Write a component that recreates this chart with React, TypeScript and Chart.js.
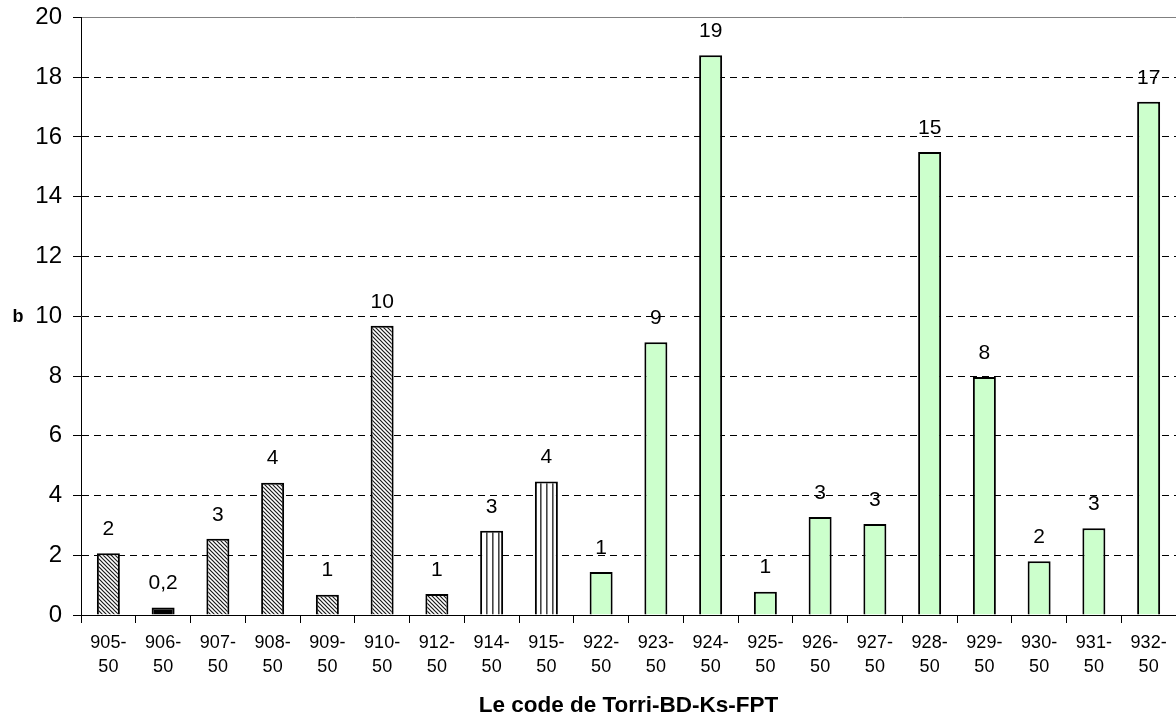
import React, { useEffect, useRef } from "react";
import { Chart, registerables } from "chart.js";

Chart.register(...registerables);

const codes = ["905", "906", "907", "908", "909", "910", "912", "914", "915", "922", "923", "924", "925", "926", "927", "928", "929", "930", "931", "932"];
const suffix = "50";
const values = [2.07, 0.25, 2.55, 4.43, 0.68, 9.68, 0.7, 2.82, 4.47, 1.44, 9.13, 18.74, 0.78, 3.28, 3.05, 15.5, 7.97, 1.8, 2.9, 17.18];
const valueLabels = ["2", "0,2", "3", "4", "1", "10", "1", "3", "4", "1", "9", "19", "1", "3", "3", "15", "8", "2", "3", "17"];
const fillKinds = ["hatch", "solid", "hatch", "hatch", "hatch", "hatch", "hatch", "vstripe", "vstripe", "green", "green", "green", "green", "green", "green", "green", "green", "green", "green", "green"];
const yTicks = [0, 2, 4, 6, 8, 10, 12, 14, 16, 18, 20];
const yTitle = "b";
const xTitle = "Le code de Torri-BD-Ks-FPT";

const FONT = "'Liberation Sans', Arial, sans-serif";

function makeHatch(): CanvasPattern | string {
  const c = document.createElement("canvas");
  c.width = 4;
  c.height = 4;
  const g = c.getContext("2d");
  if (!g) return "#888";
  g.fillStyle = "#ffffff";
  g.fillRect(0, 0, 4, 4);
  g.strokeStyle = "#1a1a1a";
  g.lineWidth = 1.2;
  g.beginPath();
  g.moveTo(-1, -1);
  g.lineTo(5, 5);
  g.moveTo(-1, 3);
  g.lineTo(1, 5);
  g.moveTo(3, -1);
  g.lineTo(5, 1);
  g.stroke();
  return g.createPattern(c, "repeat") || "#888";
}

function makeVStripe(): CanvasPattern | string {
  const c = document.createElement("canvas");
  c.width = 6;
  c.height = 6;
  const g = c.getContext("2d");
  if (!g) return "#ccc";
  g.fillStyle = "#ffffff";
  g.fillRect(0, 0, 6, 6);
  g.fillStyle = "#444444";
  g.fillRect(0, 0, 1.6, 6);
  return g.createPattern(c, "repeat") || "#ccc";
}

export default function App() {
  const ref = useRef<HTMLCanvasElement | null>(null);

  useEffect(() => {
    document.body.style.margin = "0";
    const canvas = ref.current;
    if (!canvas) return;
    const hatch = makeHatch();
    const vstripe = makeVStripe();
    const fills = fillKinds.map((k) =>
      k === "hatch" ? hatch : k === "vstripe" ? vstripe : k === "solid" ? "#000000" : "#CCFFCC"
    );

    const labelPlugin = {
      id: "valueLabels",
      afterDatasetsDraw(chart: any) {
        const ctx = chart.ctx;
        const meta = chart.getDatasetMeta(0);
        ctx.save();
        ctx.fillStyle = "#000";
        ctx.font = `21px ${FONT}`;
        ctx.textAlign = "center";
        ctx.textBaseline = "middle";
        meta.data.forEach((el: any, i: number) => {
          ctx.fillText(valueLabels[i], el.x, el.y - 24);
        });
        // y axis title (horizontal)
        ctx.font = `bold 18px ${FONT}`;
        const ys = chart.scales.y;
        ctx.fillText(yTitle, 18, ys.getPixelForValue(10) + 1);
        ctx.restore();
      },
    };

    const chart = new Chart(canvas, {
      type: "bar",
      data: {
        labels: codes.map((c) => [c + "-", suffix]),
        datasets: [
          {
            data: values,
            backgroundColor: fills as any,
            borderColor: "#000000",
            borderWidth: 2,
            categoryPercentage: 1,
            barPercentage: 0.42,
          },
        ],
      },
      options: {
        animation: false,
        responsive: false,
        devicePixelRatio: 1,
        layout: { padding: { top: 17.5, right: 0, bottom: 0, left: 0 } },
        plugins: {
          legend: { display: false },
          tooltip: { enabled: false },
          title: { display: false },
        },
        scales: {
          x: {
            offset: true,
            grid: {
              display: true,
              offset: true,
              drawOnChartArea: false,
              drawTicks: true,
              tickLength: 8,
              tickColor: "#000",
              color: "#000",
            },
            border: { display: true, color: "#000", width: 1 },
            ticks: {
              color: "#000",
              font: { family: FONT, size: 18, lineHeight: 1.35 },
              padding: 8,
              maxRotation: 0,
              autoSkip: false,
            },
            title: {
              display: true,
              text: xTitle,
              color: "#000",
              font: { family: FONT, size: 22.5, weight: "bold" },
              padding: { top: 0, bottom: 1 },
            },
            afterFit(scale: any) {
              scale.height = 105;
              scale.paddingLeft = 0;
              scale.paddingRight = 0;
            },
          },
          y: {
            min: 0,
            max: 20,
            afterBuildTicks(scale: any) {
              scale.ticks = yTicks.map((v) => ({ value: v }));
            },
            grid: {
              display: true,
              drawOnChartArea: true,
              drawTicks: true,
              tickLength: 8,
              tickColor: "#000",
              color: (ctx: any) => (ctx.tick && ctx.tick.value === 20 ? "#808080" : "#000"),
              lineWidth: 1,
            },
            border: {
              display: true,
              color: "#000",
              width: 1,
              dash: (ctx: any) => (ctx.tick && ctx.tick.value === 20 ? [] : [7, 5]),
            } as any,
            ticks: {
              color: "#000",
              font: { family: FONT, size: 24 },
              padding: 11,
            },
            afterFit(scale: any) {
              scale.width = 81;
              scale.paddingTop = 0;
              scale.paddingBottom = 0;
            },
          },
        },
      },
      plugins: [labelPlugin],
    } as any);

    return () => {
      chart.destroy();
    };
  }, []);

  return (
    <div style={{ position: "absolute", left: 0, top: 0, width: 1176, height: 720 }}>
      <canvas ref={ref} width={1176} height={720} style={{ display: "block" }} />
    </div>
  );
}
